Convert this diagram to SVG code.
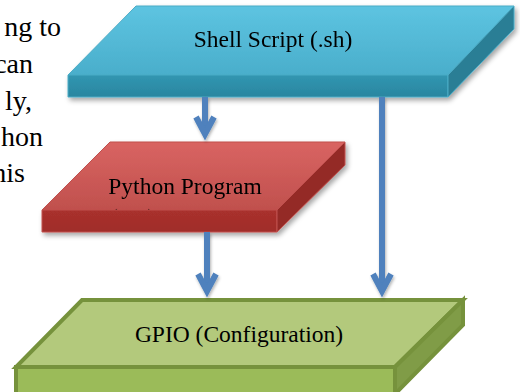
<svg xmlns="http://www.w3.org/2000/svg" width="520" height="392" viewBox="0 0 520 392">
<defs>
<linearGradient id="gBlueTop" x1="0" y1="0" x2="0" y2="1"><stop offset="0" stop-color="#5dc4e1"/><stop offset="1" stop-color="#4aaecb"/></linearGradient>
<linearGradient id="gBlueFront" x1="0" y1="0" x2="0" y2="1"><stop offset="0" stop-color="#3196b1"/><stop offset="1" stop-color="#2a86a0"/></linearGradient>
<linearGradient id="gRedTop" x1="0" y1="0" x2="0" y2="1"><stop offset="0" stop-color="#d96462"/><stop offset="1" stop-color="#c0504d"/></linearGradient>
<linearGradient id="gRedFront" x1="0" y1="0" x2="0" y2="1"><stop offset="0" stop-color="#a9302d"/><stop offset="1" stop-color="#a02d2a"/></linearGradient>
<filter id="shadow" x="-10%" y="-10%" width="130%" height="140%"><feDropShadow dx="2" dy="3" stdDeviation="2.5" flood-color="#000" flood-opacity="0.35"/></filter>
<filter id="ashadow" x="-50%" y="-10%" width="200%" height="130%"><feDropShadow dx="1" dy="2" stdDeviation="1.5" flood-color="#000" flood-opacity="0.3"/></filter>
<marker id="chev" markerUnits="userSpaceOnUse" markerWidth="40" markerHeight="40" refX="0" refY="0" orient="auto" overflow="visible">
<path d="M-17,-9 L0,0 L-17,9" fill="none" stroke="#4f81bd" stroke-width="6" stroke-linejoin="miter"/>
</marker>
<style>
.blue{stroke:#4bacc6;stroke-width:1;stroke-linejoin:round}
.red{stroke:#c0504d;stroke-width:1;stroke-linejoin:round}
.green{stroke:#76923c;stroke-width:4;stroke-linejoin:miter}
.conn{fill:none;stroke:#4f81bd;stroke-width:6;marker-end:url(#chev)}
</style>
</defs>
<rect width="520" height="392" fill="#fff"/>
<g id="side-text" font-family="'Liberation Serif', 'DejaVu Serif', serif" font-size="28" fill="#000" text-anchor="end">
<text x="61" y="36">ng to</text>
<text x="33" y="73">can</text>
<text x="32" y="110">ly,</text>
<text x="43" y="146">hon</text>
<text x="25" y="182">his</text>
</g>
<g id="shell" filter="url(#shadow)">
<polygon class="blue" points="136,6 514,6 448,75 68,75" fill="url(#gBlueTop)"/>
<polygon class="blue" points="68,75 448,75 448,97 68,97" fill="url(#gBlueFront)"/>
<polygon class="blue" points="448,75 514,6 514,29 448,97" fill="#2a7e95"/>
<text x="273" y="47" font-family="'Liberation Serif', 'DejaVu Serif', serif" font-size="23.5" text-anchor="middle" fill="#000">Shell Script (.sh)</text>
</g>
<g id="python" filter="url(#shadow)">
<polygon class="red" points="110,142 345,142 277,210 42,210" fill="url(#gRedTop)"/>
<text x="185" y="194" font-family="'Liberation Serif', 'DejaVu Serif', serif" font-size="23.5" text-anchor="middle" fill="#000">Python Program</text>
<text x="110" y="225" font-family="'Liberation Serif', 'DejaVu Serif', serif" font-size="23.5" fill="#000">(.py)</text>
<polygon class="red" points="42,210 277,210 277,232 42,232" fill="url(#gRedFront)"/>
<polygon class="red" points="277,210 345,142 345,165 277,232" fill="#942b28"/>
</g>
<g id="gpio">
<polygon class="green" points="82,300 463,300 395,367 16,367" fill="#b3c97c"/>
<polygon class="green" points="16,367 395,367 395,394 16,394" fill="#9bbb59"/>
<polygon class="green" points="395,367 463,300 463,325 395,394" fill="#809c47"/>
<text x="239" y="342" font-family="'Liberation Serif', 'DejaVu Serif', serif" font-size="23.5" text-anchor="middle" fill="#000">GPIO (Configuration)</text>
</g>
<g id="connectors" filter="url(#ashadow)">
<path class="conn" d="M205,97 V134"/>
<path class="conn" d="M207,232 V291"/>
<path class="conn" d="M382,97 V291"/>
</g>
</svg>
